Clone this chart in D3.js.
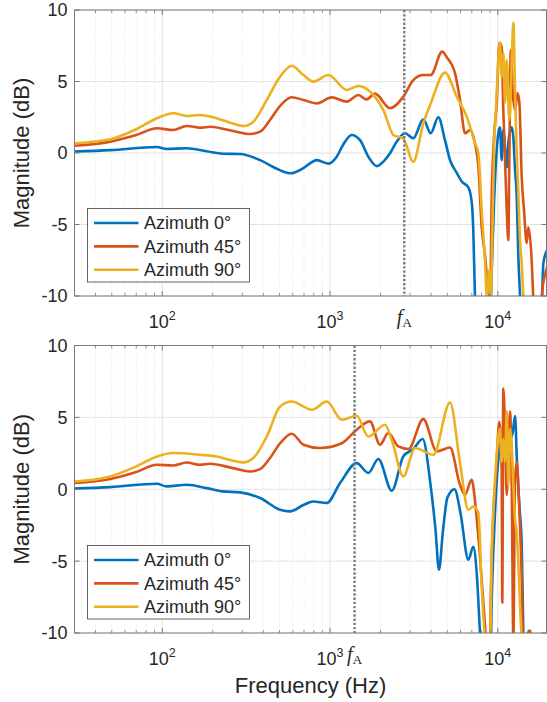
<!DOCTYPE html>
<html>
  <head>
    <meta charset="utf-8" />
    <title>Magnitude vs frequency</title>
    <script src="https://d3js.org/d3.v7.min.js"></script>
    <style>
        body {margin: 0; background: #fff;}
        svg text {font-family: "Liberation Sans", Arial, Helvetica, sans-serif; fill: #262626;}
    </style>
  </head>
  <body>

    <svg id="chart" width="547" height="702"></svg>

    <script>

        // legend entries and series colours (MATLAB default order)
        var azimuths = ["Azimuth 0°", "Azimuth 45°", "Azimuth 90°"];
        var colors = ["#0072BD", "#D95319", "#EDB120"];

        var yTicks = [-10, -5, 0, 5, 10];
        var xTickExp = [2, 3, 4];
        var fA = [2770, 1400];   // dotted marker, top / bottom panel

        // [frequency Hz, magnitude dB]
        var top0 = [[30,0.1],[49,0.2],[93,0.42],[106,0.28],[140,0.33],[184,0.12],[230,-0.05],[291,-0.07],[383,-0.5],[481,-1.1],[578,-1.42],[694,-1.05],[760,-0.72],[834,-0.5],[977,-0.74],[1096,-0.26],[1200,0.6],[1346,1.26],[1510,0.9],[1700,-0.3],[1897,-0.92],[2080,-0.6],[2278,-0.02],[2500,0.8],[2799,1.38],[3136,1.03],[3597,2.36],[3981,1.38],[4420,2.5],[4842,0.9],[5188,-0.49],[5700,-1.4],[6095,-2.0],[6673,-2.4],[7000,-3.5],[7140,-5.4],[7305,-10],[7480,-13],[8900,-13],[9200,-8.2],[9490,-3.5],[9760,-0.5],[10070,1.4],[10300,1.8],[10540,-0.5],[10780,1.6],[11300,-1],[11550,0.7],[12110,1.8],[12370,1.1],[12670,-1.2],[12960,-3],[13250,-7.2],[13560,-10],[13880,-13],[18000,-13],[18680,-7.7],[19650,-6.8]];

        var top45 = [[30,0.51],[49,0.79],[70,1.26],[93,1.73],[116,1.61],[140,1.89],[168,1.77],[193,1.84],[264,1.54],[334,1.33],[383,1.49],[439,2.31],[504,3.3],[591,3.9],[694,3.71],[834,3.47],[1023,3.89],[1259,3.59],[1476,4.06],[1650,3.75],[1854,4.15],[2278,3.13],[2735,3.94],[3136,5.1],[3597,5.45],[3981,5.45],[4660,7.09],[4960,6.7],[5560,5.57],[5954,3.7],[6376,1.38],[6826,1.6],[7305,0.67],[7650,-0.9],[8015,-5.2],[8394,-7.2],[8590,-8.6],[8780,-10.5],[8990,-10.5],[9200,-3],[9490,1.1],[9850,3.5],[10210,7.7],[10540,7.4],[10780,3],[11040,-0.5],[11300,-4],[11550,-6.1],[11710,-0.5],[11950,7.2],[12280,4.2],[12670,3],[13100,4.2],[13440,3.5],[13880,-1.7],[14320,-4],[14860,-6.3],[15200,-5.2],[15910,-7.5],[16300,-10.5],[16800,-13],[17800,-13],[18270,-10],[19110,-8.5],[19650,-8]];

        var top90 = [[30,0.68],[49,0.96],[70,1.66],[93,2.43],[116,2.78],[140,2.59],[168,2.66],[211,2.43],[254,2.12],[304,1.89],[349,2.19],[420,3.71],[504,5.34],[591,6.1],[694,5.45],[795,4.99],[977,5.45],[1259,4.41],[1476,4.69],[1812,4.06],[2080,3.0],[2384,1.26],[2735,1.0],[3136,-0.61],[3597,2.08],[3981,3.47],[4842,5.62],[5690,3.94],[6528,2.54],[7305,0.7],[7650,0],[8015,-4],[8394,-7.7],[8590,-10],[8900,-8.2],[9075,-10],[9330,-4],[9490,0.2],[9760,3.24],[10070,6.5],[10300,7.7],[10540,5.3],[10780,7],[11040,3.5],[11300,6.5],[11710,2.3],[12110,6.5],[12370,9.1],[12670,4.2],[12960,0],[13250,-2.8],[13560,-6.1],[13880,-7.7],[14190,-10],[14500,-13]];

        var bot0 = [[30,0.05],[49,0.15],[93,0.38],[106,0.2],[140,0.31],[184,0.08],[230,-0.15],[291,-0.22],[383,-0.61],[504,-1.43],[578,-1.54],[694,-1.1],[795,-0.85],[955,-0.96],[1148,0.43],[1442,1.82],[1690,1.13],[1941,2.1],[2333,-0.1],[2735,2.3],[3136,2.8],[3565,3.5],[3981,0.2],[4250,-2.8],[4460,-5.6],[4700,-3],[5000,-0.6],[5520,0],[6000,-1.7],[6673,-4.9],[7140,-4],[7500,-6],[7830,-10],[8100,-13],[8990,-13],[9200,-7.6],[9625,-1.6],[9930,1.2],[10300,3.0],[10780,3.7],[11300,4.7],[11830,3.5],[12280,4.0],[12670,5.1],[12960,2.3],[13440,-1.1],[13880,-3.9],[14190,-10],[14500,-13]];

        var bot45 = [[30,0.43],[49,0.71],[70,1.2],[93,1.7],[116,1.65],[140,1.86],[168,1.7],[193,1.77],[264,1.47],[334,1.24],[383,1.4],[439,2.17],[504,3.2],[591,3.86],[694,3.1],[871,2.87],[1175,3.2],[1442,4.14],[1730,4.72],[1986,3.1],[2225,3.91],[2553,2.98],[2931,2.8],[3597,4.88],[4327,2.63],[5188,2.9],[5954,0.3],[6376,-0.38],[6985,0.66],[7400,-1.43],[7830,-4.7],[8200,-7.9],[8590,-10.5],[8990,-10.5],[9075,-7.6],[9400,-1.6],[9760,1.2],[10210,4.7],[10540,1.4],[10630,-7.9],[10780,7],[11040,4.2],[11300,-0.4],[11550,3],[11830,5.4],[12110,0],[12370,-10.5],[12670,0.7],[12960,1.9],[13440,-1.6],[13880,-6.2],[14100,-10.5],[14500,-13],[14930,-11],[15200,-9.85],[15600,-9.85],[15910,-11]];

        var bot90 = [[30,0.54],[49,0.89],[70,1.59],[93,2.28],[116,2.52],[168,2.4],[211,2.28],[264,1.98],[304,1.86],[349,2.17],[420,3.67],[504,5.76],[591,6.1],[780,5.53],[955,6.1],[1175,4.83],[1442,5.11],[1690,3.67],[2128,4.49],[2350,3.3],[2735,0.89],[3213,2.87],[4130,2.4],[5188,6.04],[5954,1.82],[6673,-1.43],[7140,-1.2],[7650,-1.6],[8015,-6.8],[8510,-10.5],[8990,-10.5],[9200,-4.4],[9330,-2.5],[9625,0.7],[9930,3],[10300,4.2],[10540,1.9],[10780,3.5],[11040,1.9],[11300,5.4],[11550,0.3],[11830,4.2],[12110,3],[12370,0.3],[12670,-2.1],[12960,-3],[13250,-5.1],[13560,-8.1],[13880,-10.5],[14200,-13]];

        var svg = d3.select("#chart");

        var left = 74.5, right = 546.5;
        var x = d3.scaleLog().domain([30, 19500]).range([left, right]);

        var panels = [
            {top: 10, bottom: 296, series: [top0, top45, top90], fA: fA[0]},
            {top: 345.5, bottom: 633, series: [bot0, bot45, bot90], fA: fA[1]}
        ];

        var allTicks = x.ticks();
        var majorTicks = allTicks.filter(function(t){ return Math.abs(Math.log10(t) - Math.round(Math.log10(t))) < 1e-9; });
        var minorTicks = allTicks.filter(function(t){ return majorTicks.indexOf(t) < 0; });

        panels.forEach(function(p, i) {

            var y = d3.scaleLinear().domain([-10, 10]).range([p.bottom, p.top]);
            var g = svg.append("g");

            g.append("clipPath").attr("id", "clip" + i)
                .append("rect")
                .attr("x", left).attr("y", p.top)
                .attr("width", right - left).attr("height", p.bottom - p.top);

            // grid
            g.selectAll(".minor").data(minorTicks).enter().append("line")
                .attr("x1", function(d){ return x(d); }).attr("x2", function(d){ return x(d); })
                .attr("y1", p.top).attr("y2", p.bottom)
                .attr("stroke", "#dcdcdc").attr("stroke-width", 0.8)
                .attr("stroke-dasharray", "1,2");

            g.selectAll(".major").data(majorTicks).enter().append("line")
                .attr("x1", function(d){ return x(d); }).attr("x2", function(d){ return x(d); })
                .attr("y1", p.top).attr("y2", p.bottom)
                .attr("stroke", "#e2e2e2").attr("stroke-width", 1);

            g.selectAll(".ygrid").data(yTicks).enter().append("line")
                .attr("x1", left).attr("x2", right)
                .attr("y1", function(d){ return y(d); }).attr("y2", function(d){ return y(d); })
                .attr("stroke", "#e2e2e2").attr("stroke-width", 1);

            // curves
            var line = d3.line()
                .x(function(d){ return x(d[0]); })
                .y(function(d){ return y(d[1]); })
                .curve(d3.curveMonotoneX);

            g.append("g").attr("clip-path", "url(#clip" + i + ")")
                .selectAll("path").data(p.series).enter().append("path")
                .attr("d", line)
                .attr("fill", "none")
                .attr("stroke", function(d, k){ return colors[k]; })
                .attr("stroke-width", 2.6)
                .attr("stroke-linejoin", "round");

            // f_A marker
            g.append("line")
                .attr("x1", x(p.fA)).attr("x2", x(p.fA))
                .attr("y1", p.top).attr("y2", p.bottom)
                .attr("stroke", "#7b7b7b").attr("stroke-width", 2.4)
                .attr("stroke-dasharray", "2.4,1.8");

            // frame
            g.append("rect")
                .attr("x", left).attr("y", p.top)
                .attr("width", right - left).attr("height", p.bottom - p.top)
                .attr("fill", "none").attr("stroke", "#7a7a7a").attr("stroke-width", 1);

            // inward ticks
            [p.top, p.bottom].forEach(function(edge, e) {
                var dir = e === 0 ? 1 : -1;
                g.selectAll(null).data(majorTicks).enter().append("line")
                    .attr("x1", function(d){ return x(d); }).attr("x2", function(d){ return x(d); })
                    .attr("y1", edge).attr("y2", edge + dir * 5)
                    .attr("stroke", "#7a7a7a");
                g.selectAll(null).data(minorTicks).enter().append("line")
                    .attr("x1", function(d){ return x(d); }).attr("x2", function(d){ return x(d); })
                    .attr("y1", edge).attr("y2", edge + dir * 3)
                    .attr("stroke", "#7a7a7a").attr("stroke-width", 0.8);
            });
            [left, right].forEach(function(edge, e) {
                var dir = e === 0 ? 1 : -1;
                g.selectAll(null).data(yTicks).enter().append("line")
                    .attr("x1", edge).attr("x2", edge + dir * 5)
                    .attr("y1", function(d){ return y(d); }).attr("y2", function(d){ return y(d); })
                    .attr("stroke", "#7a7a7a");
            });

            // tick labels
            g.selectAll(".ylab").data(yTicks).enter().append("text")
                .attr("x", left - 7)
                .attr("y", function(d){ return y(d); })
                .attr("dy", "0.36em")
                .attr("text-anchor", "end")
                .style("font-size", "18px")
                .text(function(d){ return d; });

            var xl = g.selectAll(".xlab").data(xTickExp).enter().append("text")
                .attr("x", function(d){ return x(Math.pow(10, d)); })
                .attr("y", p.bottom + 32)
                .attr("text-anchor", "middle")
                .style("font-size", "18px");
            xl.append("tspan").text("10");
            xl.append("tspan").attr("dy", -8).style("font-size", "12.5px")
                .text(function(d){ return d; });

            var fl = g.append("text")
                .attr("x", x(p.fA))
                .attr("y", p.bottom + 28)
                .attr("text-anchor", "middle");
            fl.append("tspan").text("f")
                .style("font-family", "'Liberation Serif', 'DejaVu Serif', serif")
                .style("font-style", "italic").style("font-size", "20px");
            fl.append("tspan").text("A").attr("dy", 3)
                .style("font-family", "'Liberation Serif', 'DejaVu Serif', serif")
                .style("font-size", "13.5px");

            // y label
            g.append("text")
                .attr("transform", "translate(29," + ((p.top + p.bottom) / 2) + ") rotate(-90)")
                .attr("text-anchor", "middle")
                .style("font-size", "22px")
                .text("Magnitude (dB)");

            // legend
            var lx = 87.5, lw = 162, lh = 73.5;
            var ly = p.bottom - 14 - lh;
            var leg = g.append("g");
            leg.append("rect")
                .attr("x", lx).attr("y", ly).attr("width", lw).attr("height", lh)
                .attr("fill", "#fff").attr("stroke", "#555").attr("stroke-width", 0.9);
            var rows = leg.selectAll(".row").data(azimuths).enter().append("g")
                .attr("transform", function(d, k){ return "translate(0," + (ly + 14.5 + k * 23.4) + ")"; });
            rows.append("line")
                .attr("x1", lx + 6.5).attr("x2", lx + 51)
                .attr("stroke", function(d, k){ return colors[k]; })
                .attr("stroke-width", 2.6);
            rows.append("text")
                .attr("x", lx + 56.5).attr("dy", "0.36em")
                .style("font-size", "18px")
                .text(function(d){ return d; });
        });

        svg.append("text")
            .attr("x", (left + right) / 2)
            .attr("y", 693)
            .attr("text-anchor", "middle")
            .style("font-size", "22px")
            .text("Frequency (Hz)");

    </script>

  </body>
</html>
